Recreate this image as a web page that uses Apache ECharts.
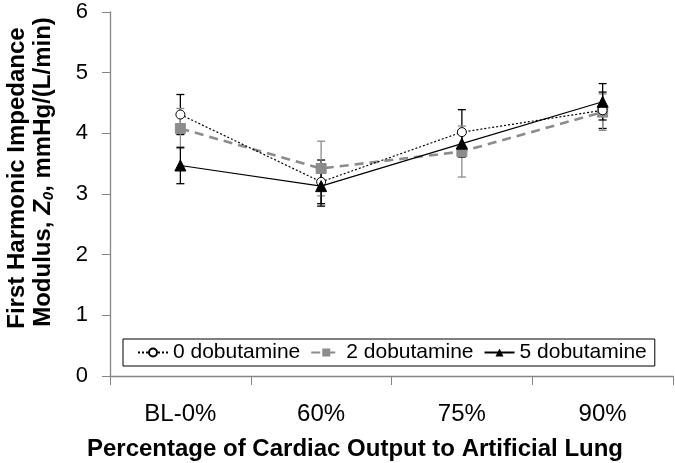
<!DOCTYPE html>
<html><head><meta charset="utf-8">
<script src="https://cdn.jsdelivr.net/npm/echarts@6/dist/echarts.min.js"></script>
<style>html,body{margin:0;padding:0;background:#fff}#c{width:675px;height:463px}</style>
</head><body><div id="c"></div>
<script>
var categories = ['BL-0%', '60%', '75%', '90%'];
var yTicks = [0, 1, 2, 3, 4, 5, 6];
var dob0 = [4.31, 3.20, 4.02, 4.38];
var dob0Err = [0.33, 0.36, 0.37, 0.30];
var dob2 = [4.08, 3.42, 3.70, 4.35];
var dob2Err = [0.33, 0.45, 0.42, 0.30];
var dob5 = [3.47, 3.13, 3.83, 4.52];
var dob5Err = [0.30, 0.33, 0.22, 0.30];
var names = ['0 dobutamine', '2 dobutamine', '5 dobutamine'];
var xTitle = 'Percentage of Cardiac Output to Artificial Lung';

var FONT = '"Liberation Sans", Arial, sans-serif';
var chart = echarts.init(document.getElementById('c'), null, {renderer: 'canvas'});

function errSeries(vals, errs, color, z) {
  return {
    type: 'custom', z: z, silent: true,
    data: vals.map(function (v, i) { return [i, v - errs[i], v + errs[i]]; }),
    renderItem: function (params, api) {
      var lo = api.coord([api.value(0), api.value(1)]);
      var hi = api.coord([api.value(0), api.value(2)]);
      var w = 4;
      var st = {stroke: color, lineWidth: 1.3};
      return {type: 'group', children: [
        {type: 'line', shape: {x1: lo[0], y1: lo[1], x2: hi[0], y2: hi[1]}, style: st},
        {type: 'line', shape: {x1: lo[0]-w, y1: lo[1], x2: lo[0]+w, y2: lo[1]}, style: st},
        {type: 'line', shape: {x1: hi[0]-w, y1: hi[1], x2: hi[0]+w, y2: hi[1]}, style: st}
      ]};
    }
  };
}

var richT = {
  b: {fontFamily: FONT, fontSize: 24, fontWeight: 'bold', fill: '#000', lineHeight: 26},
  i: {fontFamily: FONT, fontSize: 24, fontWeight: 'bold', fontStyle: 'italic', fill: '#000', lineHeight: 26},
  s: {fontFamily: FONT, fontSize: 15, fontWeight: 'bold', fontStyle: 'italic', fill: '#000', lineHeight: 26, padding: [11, 0, 0, 0]}
};

chart.setOption({
  animation: false,
  backgroundColor: '#fff',
  grid: {left: 110, right: 2, top: 12, bottom: 87},
  graphic: [
    {type: 'text', x: 17, y: 178, rotation: Math.PI / 2,
      style: {text: '{b|First Harmonic Impedance}', rich: richT, align: 'center', verticalAlign: 'middle',
        font: 'bold 24px ' + FONT}},
    {type: 'text', x: 43, y: 172, rotation: Math.PI / 2,
      style: {text: '{b|Modulus, }{i|Z}{s|0}{b|, mmHg/(L/min)}', rich: richT, align: 'center', verticalAlign: 'middle',
        font: 'bold 24px ' + FONT}},
    {type: 'text', x: 355, y: 449,
      style: {text: xTitle, fill: '#000', font: 'bold 24px ' + FONT, align: 'center', verticalAlign: 'middle'}}
  ],
  legend: {
    left: 123, top: 339,
    itemGap: 10, itemWidth: 30, itemHeight: 10,
    padding: [3, 8, 3, 14],
    borderColor: '#000', borderWidth: 1,
    textStyle: {fontFamily: FONT, fontSize: 21, color: '#000'},
    data: names
  },
  xAxis: {
    type: 'category', data: categories, boundaryGap: true,
    axisLine: {lineStyle: {color: '#868686', width: 1.3}},
    axisTick: {show: true, length: 9, lineStyle: {color: '#868686'}},
    axisLabel: {fontFamily: FONT, fontSize: 24, color: '#000', margin: 26}
  },
  yAxis: {
    type: 'value', min: 0, max: 6, interval: 1,
    splitLine: {show: false},
    axisLine: {show: true, lineStyle: {color: '#868686', width: 1.3}},
    axisTick: {show: true, length: 8, lineStyle: {color: '#868686'}},
    axisLabel: {fontFamily: FONT, fontSize: 22, color: '#000', margin: 22,
      formatter: function (v) { return yTicks.indexOf(v) >= 0 ? String(v) : ''; }}
  },
  series: [
    errSeries(dob0, dob0Err, '#000', 2),
    errSeries(dob2, dob2Err, '#8c8c8c', 2),
    errSeries(dob5, dob5Err, '#000', 2),
    {
      name: names[0], type: 'line', data: dob0, z: 5,
      symbol: 'circle', symbolSize: 9,
      itemStyle: {color: '#fff', borderColor: '#000', borderWidth: 1},
      lineStyle: {color: '#000', width: 1.2, type: [2, 2]}
    },
    {
      name: names[1], type: 'line', data: dob2, z: 4,
      symbol: 'rect', symbolSize: 10,
      itemStyle: {color: '#8c8c8c', borderColor: '#8c8c8c'},
      lineStyle: {color: '#8c8c8c', width: 2.6, type: [9, 6]}
    },
    {
      name: names[2], type: 'line', data: dob5, z: 6,
      symbol: 'triangle', symbolSize: 11,
      itemStyle: {color: '#000', borderColor: '#000'},
      lineStyle: {color: '#000', width: 1.2, type: 'solid'}
    }
  ]
});
</script></body></html>
